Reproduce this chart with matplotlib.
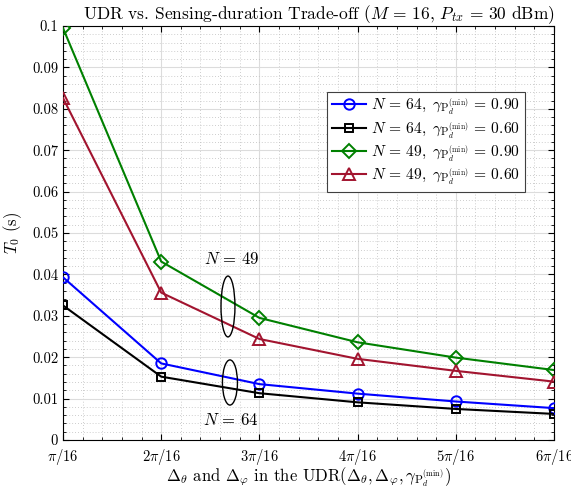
import numpy as np
import matplotlib
matplotlib.use("Agg")
import matplotlib.pyplot as plt
from matplotlib.patches import Ellipse
from matplotlib.ticker import MultipleLocator, FuncFormatter

plt.rcParams["font.family"] = "serif"
plt.rcParams["font.serif"] = ["cmr10", "DejaVu Serif"]
plt.rcParams["mathtext.fontset"] = "cm"
plt.rcParams["axes.formatter.use_mathtext"] = True

# x in units of pi/16
steps = [1, 2, 3, 4, 5, 6]
tick_labels = [r"$\pi/16$", r"$2\pi/16$", r"$3\pi/16$", r"$4\pi/16$", r"$5\pi/16$", r"$6\pi/16$"]

t0_n64_090 = [0.0393, 0.0185, 0.0135, 0.0112, 0.0093, 0.0077]
t0_n64_060 = [0.0325, 0.0153, 0.0113, 0.0091, 0.0075, 0.0063]
t0_n49_090 = [0.0995, 0.0431, 0.0295, 0.0236, 0.0199, 0.0169]
t0_n49_060 = [0.0826, 0.0356, 0.0244, 0.0196, 0.0167, 0.0141]

EQ = r"\,=\,"
GAM = r"\gamma_{\mathrm{P}_d^{(\mathrm{min})}}"
series = [
    (t0_n64_090, "#0000ff", "o", 7.5, r"$N%s64,\ %s%s0.90$" % (EQ, GAM, EQ)),
    (t0_n64_060, "#000000", "s", 6.0, r"$N%s64,\ %s%s0.60$" % (EQ, GAM, EQ)),
    (t0_n49_090, "#008000", "D", 7.0, r"$N%s49,\ %s%s0.90$" % (EQ, GAM, EQ)),
    (t0_n49_060, "#a2142f", "^", 8.0, r"$N%s49,\ %s%s0.60$" % (EQ, GAM, EQ)),
]

x = np.array(steps) * np.pi / 16
u = np.pi / 16

fig = plt.figure(figsize=(5.71, 4.88), dpi=100)
ax = fig.add_axes([63 / 571, 48 / 488, 491 / 571, 414 / 488])

for vals, col, mk, ms, lab in series:
    ax.plot(x, vals, color=col, marker=mk, markersize=ms, markerfacecolor="none",
            markeredgewidth=1.4, linewidth=1.5, label=lab, zorder=3)

ax.set_xlim(x[0], x[-1])
ax.set_ylim(0, 0.1)
ax.set_xticks(x)
ax.set_xticklabels(tick_labels)
ax.xaxis.set_minor_locator(MultipleLocator(u / 5))
ax.yaxis.set_major_locator(MultipleLocator(0.01))
ax.yaxis.set_minor_locator(MultipleLocator(0.002))
ax.yaxis.set_major_formatter(FuncFormatter(lambda v, p: "%g" % round(v, 3)))
ax.tick_params(which="both", direction="in", top=True, right=True, labelsize=10.5)
ax.tick_params(axis="x", pad=5)
ax.tick_params(which="major", length=4)
ax.tick_params(which="minor", length=2)
ax.grid(which="major", color="#dcdcdc", linewidth=0.8, linestyle="-")
ax.grid(which="minor", color="#bdbdbd", linewidth=0.6, linestyle=(0, (1, 2.5)))
ax.set_axisbelow(True)
for s in ax.spines.values():
    s.set_linewidth(0.8)

ax.set_title(r"UDR vs. Sensing-duration Trade-off ($M%s16$, $P_{tx}%s30$ dBm)" % (EQ, EQ),
             fontsize=12.5, pad=5, x=0.521)
ax.set_ylabel(r"$T_0$ (s)", fontsize=12, labelpad=6)
ax.set_xlabel(r"$\Delta_\theta$ and $\Delta_\varphi$ in the UDR$(\Delta_\theta,\Delta_\varphi,%s)$" % GAM,
              fontsize=12, labelpad=-1)

ax.add_patch(Ellipse((2.68 * u, 0.03225), 0.142 * u, 0.0147, fill=False,
                     edgecolor="black", linewidth=1.0, zorder=4))
ax.add_patch(Ellipse((2.70 * u, 0.01389), 0.153 * u, 0.0109, fill=False,
                     edgecolor="black", linewidth=1.0, zorder=4))
ax.text(2.715 * u, 0.0437, r"$N%s49$" % EQ, ha="center", va="center", fontsize=12)
ax.text(2.705 * u, 0.0048, r"$N%s64$" % EQ, ha="center", va="center", fontsize=12)

leg = ax.legend(loc="upper right", bbox_to_anchor=(0.94, 0.84), fontsize=11.2,
                fancybox=False, framealpha=1, edgecolor="#404040",
                handlelength=2.2, handletextpad=0.3, borderpad=0.3, labelspacing=0.18,
                borderaxespad=0)
leg.get_frame().set_linewidth(0.8)

fig.savefig("out.png", dpi=100)
